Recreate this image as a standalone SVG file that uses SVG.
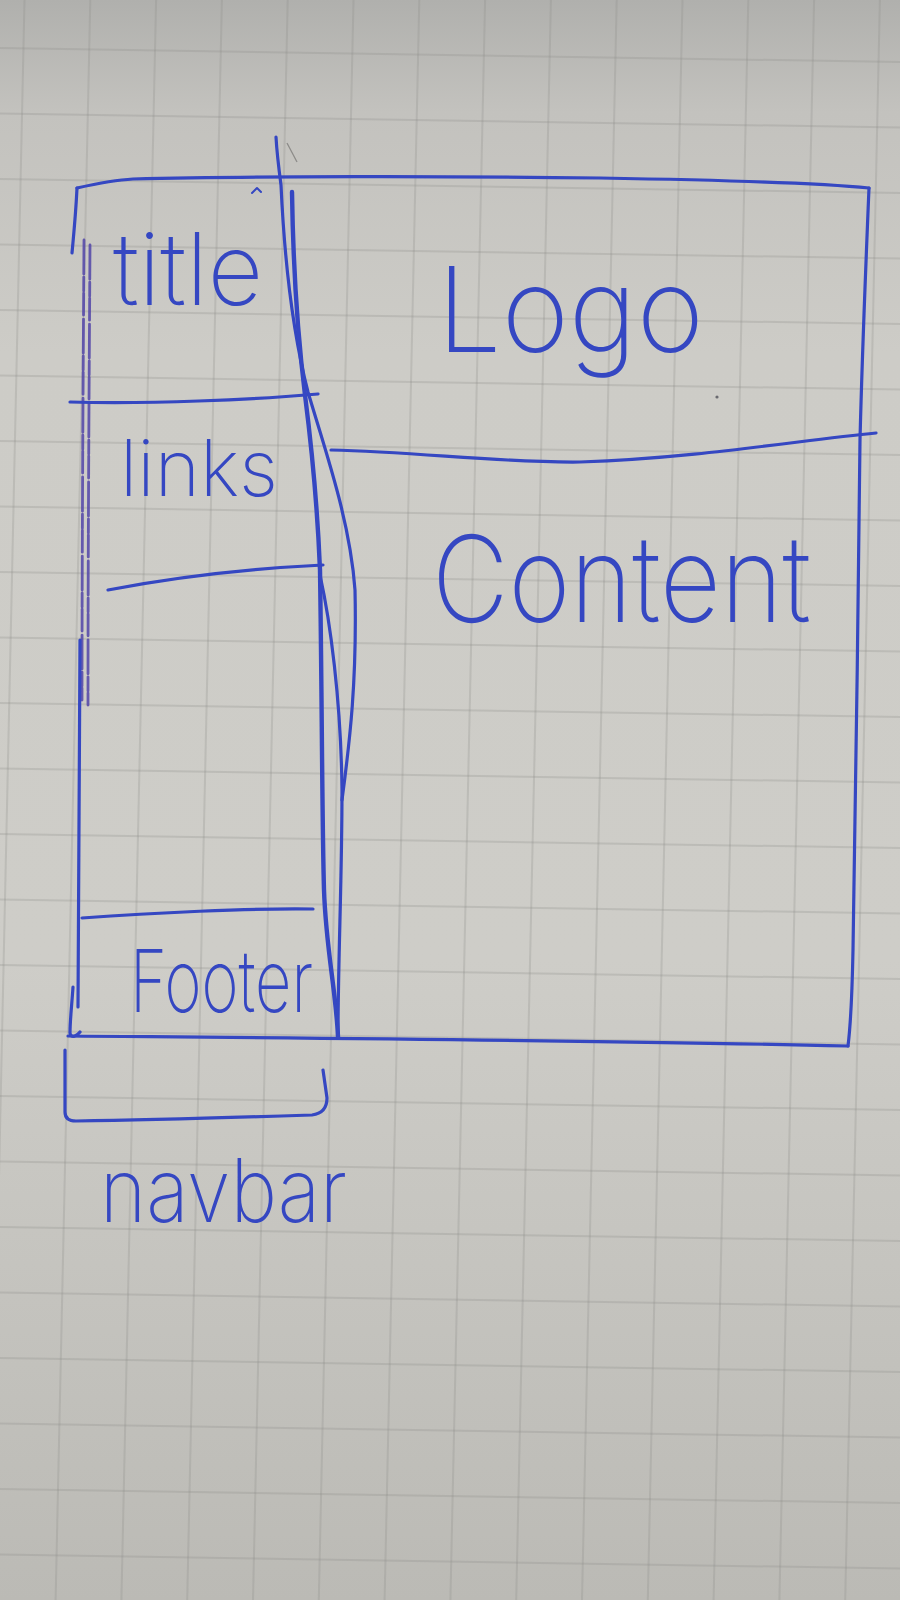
<svg xmlns="http://www.w3.org/2000/svg" width="900" height="1600" viewBox="0 0 900 1600">
  <defs>
    <linearGradient id="paper" x1="0" y1="0" x2="0" y2="1">
      <stop offset="0" stop-color="#b0b0ad"/>
      <stop offset="0.07" stop-color="#c3c2be"/>
      <stop offset="0.22" stop-color="#cdccc7"/>
      <stop offset="0.6" stop-color="#cecdc8"/>
      <stop offset="1" stop-color="#bbbab5"/>
    </linearGradient>
    <filter id="soft" x="-5%" y="-5%" width="110%" height="110%">
      <feGaussianBlur stdDeviation="0.6"/>
    </filter>
    <style>
      .grid line { stroke: #8c8b87; stroke-width: 2; stroke-opacity: 0.26; }
      .ink { fill: none; stroke: #3447c2; stroke-width: 3.2; stroke-linecap: round; stroke-linejoin: round; }
      .bold { stroke-width: 4.4; }
      .violet { fill: none; stroke: #5244a8; stroke-width: 2.8; stroke-linecap: round; stroke-opacity: 0.85; stroke-dasharray: 34 3 14 2 22 4; }
      .hand { fill: #3447c2; font-family: "Inter", "Roboto", "Open Sans", sans-serif; font-weight: 200; }
    </style>
  </defs>

  <!-- squared paper -->
  <rect width="900" height="1600" fill="url(#paper)"/>
  <g class="grid" id="grid">
    <line x1="24.5" y1="0" x2="-10.2" y2="1600"/>
    <line x1="90.3" y1="0" x2="55.6" y2="1600"/>
    <line x1="156.1" y1="0" x2="121.4" y2="1600"/>
    <line x1="221.9" y1="0" x2="187.2" y2="1600"/>
    <line x1="287.7" y1="0" x2="253" y2="1600"/>
    <line x1="353.5" y1="0" x2="318.8" y2="1600"/>
    <line x1="419.3" y1="0" x2="384.6" y2="1600"/>
    <line x1="485.1" y1="0" x2="450.4" y2="1600"/>
    <line x1="550.9" y1="0" x2="516.2" y2="1600"/>
    <line x1="616.7" y1="0" x2="582" y2="1600"/>
    <line x1="682.5" y1="0" x2="647.8" y2="1600"/>
    <line x1="748.3" y1="0" x2="713.6" y2="1600"/>
    <line x1="814.1" y1="0" x2="779.4" y2="1600"/>
    <line x1="879.9" y1="0" x2="845.2" y2="1600"/>
    <line x1="945.7" y1="0" x2="911" y2="1600"/>

    <line x1="0" y1="48" x2="900" y2="62"/>
    <line x1="0" y1="113.5" x2="900" y2="127.5"/>
    <line x1="0" y1="179" x2="900" y2="193"/>
    <line x1="0" y1="244.5" x2="900" y2="258.5"/>
    <line x1="0" y1="310" x2="900" y2="324"/>
    <line x1="0" y1="375.5" x2="900" y2="389.5"/>
    <line x1="0" y1="441" x2="900" y2="455"/>
    <line x1="0" y1="506.5" x2="900" y2="520.5"/>
    <line x1="0" y1="572" x2="900" y2="586"/>
    <line x1="0" y1="637.5" x2="900" y2="651.5"/>
    <line x1="0" y1="703" x2="900" y2="717"/>
    <line x1="0" y1="768.5" x2="900" y2="782.5"/>
    <line x1="0" y1="834" x2="900" y2="848"/>
    <line x1="0" y1="899.5" x2="900" y2="913.5"/>
    <line x1="0" y1="965" x2="900" y2="979"/>
    <line x1="0" y1="1030.5" x2="900" y2="1044.5"/>
    <line x1="0" y1="1096" x2="900" y2="1110"/>
    <line x1="0" y1="1161.5" x2="900" y2="1175.5"/>
    <line x1="0" y1="1227" x2="900" y2="1241"/>
    <line x1="0" y1="1292.5" x2="900" y2="1306.5"/>
    <line x1="0" y1="1358" x2="900" y2="1372"/>
    <line x1="0" y1="1423.5" x2="900" y2="1437.5"/>
    <line x1="0" y1="1489" x2="900" y2="1503"/>
    <line x1="0" y1="1554.5" x2="900" y2="1568.5"/>
  </g>

  <g filter="url(#soft)">
    <!-- page frame and region dividers -->
    <g id="connectors">
      <path class="ink" d="M77,188 C95,184 115,180 133,179 C250,176 450,176 600,178 C720,180 820,183 869,188"/>
      <path class="ink" d="M77,188 C76,210 74,232 72,253"/>
      <path class="ink" d="M869,188 C866,260 862,360 860,440 C858,600 856,800 853,950 C852,1000 850,1030 848,1046"/>
      <path class="ink" d="M68,1036 C300,1038 600,1040 848,1046"/>
      <path class="ink" d="M73,987 C72,1003 70,1020 70,1033 C71,1039 77,1036 80,1032"/>
      <path class="violet" d="M84,240 C83,400 82,550 82,700"/>
      <path class="violet" d="M90,245 C89,400 88,550 88,705"/>
      <path class="ink" d="M80,640 C79,760 78,880 78,1007"/>
      <path class="ink" d="M331,450 C420,452 500,463 580,462 C700,458 800,440 876,433"/>
      <path class="ink" d="M70,402 C150,404 250,400 318,394"/>
      <path class="ink" d="M108,590 C150,582 220,570 323,565"/>
      <path class="ink" d="M82,918 C150,913 250,908 313,909"/>
      <path class="ink" d="M276,137 C277,155 279,170 281,185 C284,250 292,330 308,392 C325,450 350,520 355,590 C357,680 350,740 342,800"/>
      <path class="ink bold" d="M292,192 C293,260 297,330 305,395 C312,450 318,520 320,570 C322,700 322,820 324,890 C326,950 336,990 338,1037"/>
      <path class="ink" d="M320,575 C330,620 341,700 342,790 C342,880 338,960 338,1037"/>
      <path class="ink" d="M65,1050 L65,1112 Q65,1121 76,1121 C150,1120 250,1117 312,1115 Q327,1113 327,1098 L323,1070"/>
      <path class="ink" style="stroke-width:2" d="M252,193 L257,188 L261,192"/>
      <path d="M287,143 L297,162" fill="none" stroke="#8d8c89" stroke-width="1.3"/>
      <circle cx="717" cy="397" r="1.6" fill="#6a6a70"/>
    </g>

    <g id="title">
      <text class="hand" x="113" y="305" font-size="100" textLength="150" lengthAdjust="spacingAndGlyphs">title</text>
    </g>
    <g id="links">
      <text class="hand" x="120" y="496" font-size="78" textLength="158" lengthAdjust="spacingAndGlyphs">links</text>
    </g>
    <g id="footer">
      <text class="hand" x="130" y="1012" font-size="86" textLength="183" lengthAdjust="spacingAndGlyphs">Footer</text>
    </g>
    <g id="logo">
      <text class="hand" x="437" y="352" font-size="118" textLength="267" lengthAdjust="spacingAndGlyphs">Logo</text>
    </g>
    <g id="content">
      <text class="hand" x="432" y="622" font-size="120" textLength="379" lengthAdjust="spacingAndGlyphs">Content</text>
    </g>
    <g id="navbar">
      <text class="hand" x="100" y="1222" font-size="88" textLength="247" lengthAdjust="spacingAndGlyphs">navbar</text>
    </g>
  </g>
</svg>
